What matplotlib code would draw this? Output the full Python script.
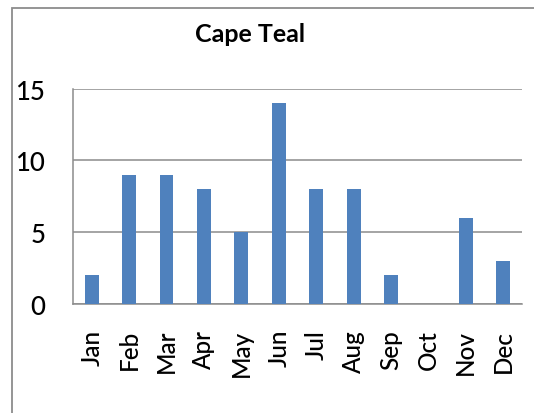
import matplotlib
matplotlib.use("Agg")
import matplotlib.pyplot as plt
from matplotlib.patches import Rectangle

months = ["Jan", "Feb", "Mar", "Apr", "May", "Jun", "Jul", "Aug", "Sep", "Oct", "Nov", "Dec"]
counts = [2, 9, 9, 8, 5, 14, 8, 8, 2, 0, 6, 3]
yticks = [0, 5, 10, 15]
title = "Cape Teal"

plt.rcParams['font.family'] = ['Lato', 'DejaVu Sans']

fig = plt.figure(figsize=(5.34, 4.14), dpi=100)
fig.patch.set_facecolor("white")

# chart border (extends past right/bottom edges as in the cropped reference)
fig.patches.append(Rectangle((12 / 534, -0.1), 1.2, (414 - 9) / 414 + 0.1,
                             transform=fig.transFigure, fill=False,
                             edgecolor="#8c8c8c", linewidth=1.3, zorder=0))

ax = fig.add_axes([73 / 534, (414 - 305) / 414, (522 - 73) / 534, (305 - 89.5) / 414])
x = list(range(len(months)))
ax.bar(x, counts, width=0.37, color="#4F81BD", zorder=3)

ax.set_xlim(-0.5, len(months) - 0.5)
ax.set_ylim(0, 15)
ax.set_yticks(yticks)
ax.set_yticklabels([str(v) for v in yticks], fontsize=18.5, fontweight="medium")
ax.set_xticks(x)
ax.set_xticklabels(months, rotation=90, fontsize=17.5, fontweight="medium")
ax.tick_params(axis="y", length=0, pad=20)
ax.tick_params(axis="x", length=0, pad=18)
ax.yaxis.grid(True, color="#8c8c8c", linewidth=1.1, zorder=0)
ax.set_axisbelow(True)
for s in ["top", "right"]:
    ax.spines[s].set_visible(False)
for s in ["left", "bottom"]:
    ax.spines[s].set_color("#8c8c8c")
    ax.spines[s].set_linewidth(1.1)

fig.text(250 / 534, 1 - 35 / 414, title, ha="center", va="center",
         fontsize=18, fontweight="bold")

fig.savefig("out.png", dpi=100)
